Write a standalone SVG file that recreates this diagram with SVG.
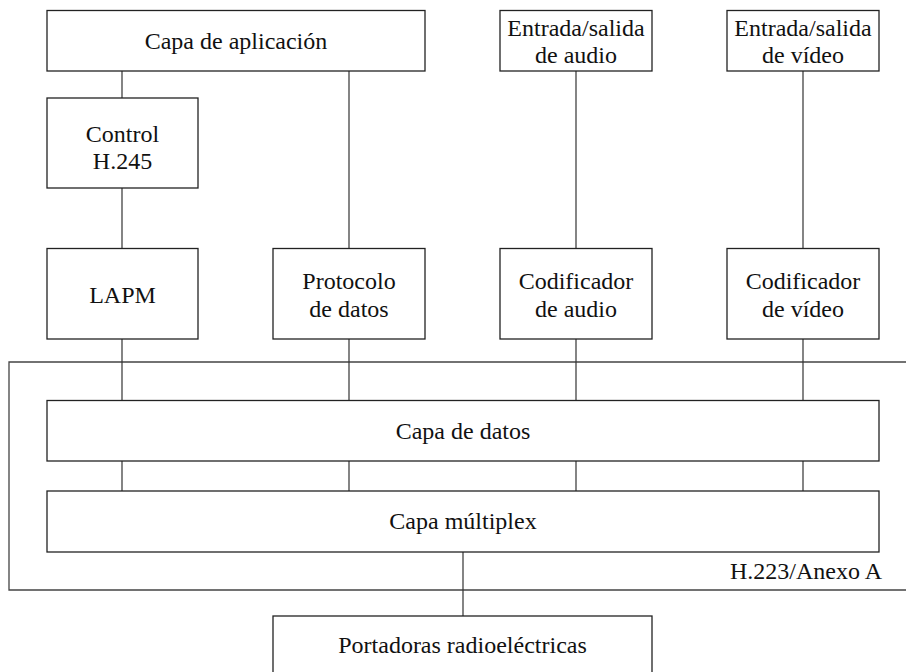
<svg xmlns="http://www.w3.org/2000/svg" width="906" height="672" viewBox="0 0 906 672">
<style>
.box{fill:#fff;stroke:#222;stroke-width:1.3}
.t{font-family:"Liberation Serif","Times New Roman",serif;font-size:24px;fill:#111;text-anchor:middle}
.c{stroke:#333;stroke-width:1.2;fill:none}
.frame{stroke:#444;stroke-width:1.3;fill:none}
</style>
<rect width="906" height="672" fill="#fff"/>
<g id="frame-h223">
<path class="frame" d="M906,362 H9 V590 H906"/>
<text class="t" x="882" y="579" style="text-anchor:end">H.223/Anexo A</text>
</g>
<g id="connectors">
<line class="c" x1="122" y1="71" x2="122" y2="98"/>
<line class="c" x1="122" y1="188" x2="122" y2="248"/>
<line class="c" x1="349" y1="71" x2="349" y2="248"/>
<line class="c" x1="576" y1="71" x2="576" y2="248"/>
<line class="c" x1="803" y1="71" x2="803" y2="248"/>
<line class="c" x1="122" y1="339" x2="122" y2="400"/>
<line class="c" x1="349" y1="339" x2="349" y2="400"/>
<line class="c" x1="576" y1="339" x2="576" y2="400"/>
<line class="c" x1="803" y1="339" x2="803" y2="400"/>
<line class="c" x1="122" y1="461" x2="122" y2="491"/>
<line class="c" x1="349" y1="461" x2="349" y2="491"/>
<line class="c" x1="576" y1="461" x2="576" y2="491"/>
<line class="c" x1="803" y1="461" x2="803" y2="491"/>
<line class="c" x1="463" y1="552" x2="463" y2="616"/>
</g>
<g id="app">
<rect class="box" x="47" y="10.5" width="378" height="60.5"/>
<text class="t" x="236" y="49">Capa de aplicación</text>
</g>
<g id="audio-io">
<rect class="box" x="500" y="10.5" width="152" height="60.5"/>
<text class="t" x="576" y="36">Entrada/salida</text>
<text class="t" x="576" y="63">de audio</text>
</g>
<g id="video-io">
<rect class="box" x="727" y="10.5" width="152" height="60.5"/>
<text class="t" x="803" y="36">Entrada/salida</text>
<text class="t" x="803" y="63">de vídeo</text>
</g>
<g id="control">
<rect class="box" x="47" y="98" width="151" height="90"/>
<text class="t" x="122.5" y="142">Control</text>
<text class="t" x="122.5" y="169">H.245</text>
</g>
<g id="lapm">
<rect class="box" x="47" y="248.5" width="151" height="90.5"/>
<text class="t" x="122.5" y="303">LAPM</text>
</g>
<g id="protocolo">
<rect class="box" x="273" y="248.5" width="152" height="90.5"/>
<text class="t" x="349" y="289">Protocolo</text>
<text class="t" x="349" y="317">de datos</text>
</g>
<g id="cod-audio">
<rect class="box" x="500" y="248.5" width="152" height="90.5"/>
<text class="t" x="576" y="289">Codificador</text>
<text class="t" x="576" y="317">de audio</text>
</g>
<g id="cod-video">
<rect class="box" x="727" y="248.5" width="152" height="90.5"/>
<text class="t" x="803" y="289">Codificador</text>
<text class="t" x="803" y="317">de vídeo</text>
</g>
<g id="datos">
<rect class="box" x="47" y="400.5" width="832" height="60.5"/>
<text class="t" x="463" y="439">Capa de datos</text>
</g>
<g id="multiplex">
<rect class="box" x="47" y="491" width="832" height="61"/>
<text class="t" x="463" y="529">Capa múltiplex</text>
</g>
<g id="portadoras">
<rect class="box" x="273" y="616" width="379" height="70"/>
<text class="t" x="462.5" y="653">Portadoras radioeléctricas</text>
</g>
</svg>
